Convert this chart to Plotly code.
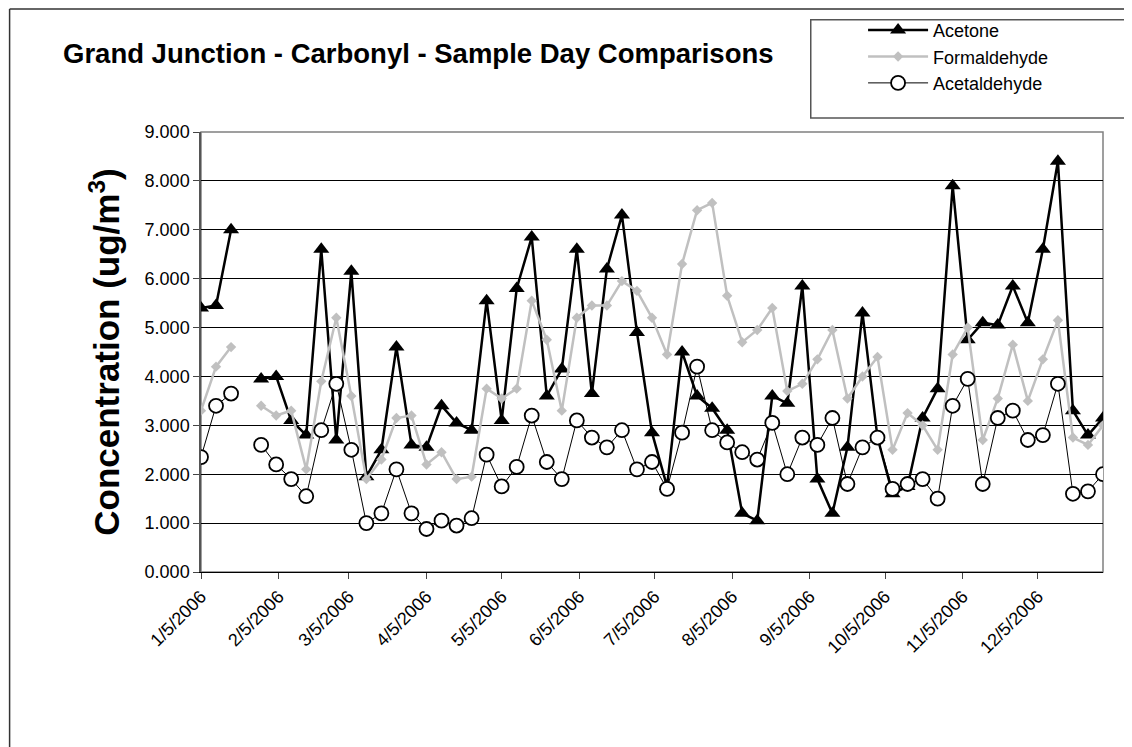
import plotly.graph_objects as go
import pandas as pd

dates = pd.date_range("2006-01-05", periods=61, freq="6D")
acetone = [5.4, 5.45, 7.0, None, 3.95, 4.0, 3.1, 2.8, 6.6, 2.7, 6.15, 1.95, 2.5, 4.6,
           2.6, 2.55, 3.4, 3.05, 2.9, 5.55, 3.1, 5.8, 6.85, 3.6,
           4.15, 6.6, 3.65, 6.2, 7.3, 4.9, 2.85, 1.75, 4.5, 3.6,
           3.35, 2.9, 1.2, 1.05, 3.6, 3.45, 5.85, 1.9, 1.2, 2.55,
           5.3, 2.75, 1.6, 1.75, 3.15, 3.75, 7.9, 4.75, 5.1, 5.05,
           5.85, 5.1, 6.6, 8.4, 3.3, 2.8, 3.15]
formaldehyde = [3.3, 4.2, 4.6, None, 3.4, 3.2, 3.3, 2.1, 3.9, 5.2, 3.6,
                1.9, 2.3, 3.15, 3.2, 2.2, 2.45, 1.9, 1.95, 3.75, 3.55,
                3.75, 5.55, 4.75, 3.3, 5.2, 5.45, 5.45, 5.95, 5.75, 5.2,
                4.45, 6.3, 7.4, 7.55, 5.65, 4.7, 4.95, 5.4, 3.7, 3.85,
                4.35, 4.95, 3.55, 4.0, 4.4, 2.5, 3.25, 3.0, 2.5, 4.45,
                5.0, 2.7, 3.55, 4.65, 3.5, 4.35, 5.15, 2.75, 2.6, 3.0]
acetaldehyde = [2.35, 3.4, 3.65, None, 2.6, 2.2, 1.9, 1.55, 2.9, 3.85, 2.5, 1.0, 1.2, 2.1,
                1.2, 0.88, 1.05, 0.95, 1.1, 2.4, 1.75, 2.15, 3.2, 2.25,
                1.9, 3.1, 2.75, 2.55, 2.9, 2.1, 2.25, 1.7, 2.85, 4.2,
                2.9, 2.65, 2.45, 2.3, 3.05, 2.0, 2.75, 2.6, 3.15, 1.8,
                2.55, 2.75, 1.7, 1.8, 1.9, 1.5, 3.4, 3.95, 1.8, 3.15,
                3.3, 2.7, 2.8, 3.85, 1.6, 1.65, 2.0]
tick_dates = pd.to_datetime([f"2006-{m:02d}-05" for m in range(1, 13)])

fig = go.Figure()
fig.add_trace(go.Scatter(x=dates, y=acetone, name="Acetone", mode="lines+markers",
                         line=dict(color="black", width=2.5),
                         marker=dict(symbol="triangle-up", size=14, color="black")))
fig.add_trace(go.Scatter(x=dates, y=formaldehyde, name="Formaldehyde", mode="lines+markers",
                         line=dict(color="#c0c0c0", width=2.5),
                         marker=dict(symbol="diamond", size=8, color="#c0c0c0")))
fig.add_trace(go.Scatter(x=dates, y=acetaldehyde, name="Acetaldehyde", mode="lines+markers",
                         line=dict(color="black", width=1),
                         marker=dict(symbol="circle", size=14, color="white",
                                     line=dict(color="black", width=1.8))))

# outer chart frame: only left and top edges are visible in the image
fx, fy = -0.2122, 1.2795
frame = [dict(type="line", xref="paper", yref="paper", x0=fx, x1=fx,
              y0=-0.41, y1=fy, line=dict(color="#333333", width=1.5)),
         dict(type="line", xref="paper", yref="paper", x0=fx, x1=1.04,
              y0=fy, y1=fy, line=dict(color="#333333", width=1.5))]

# page draws with an 8px body margin, so left/top margins are 8px smaller
fig.update_layout(
    width=1132, height=747, plot_bgcolor="white", paper_bgcolor="white",
    margin=dict(l=193, r=37, t=124, b=183, autoexpand=False),
    font=dict(family="Liberation Sans, Arial", color="black"),
    title=dict(text="<b>Grand Junction - Carbonyl - Sample Day Comparisons</b>",
               x=55 / 1132, xanchor="left", y=1 - 45 / 747, yanchor="middle",
               font=dict(size=27.5)),
    legend=dict(x=0.734, y=1.273, xanchor="left", yanchor="top", borderwidth=0,
                bgcolor="rgba(0,0,0,0)", font=dict(size=18), itemwidth=60, tracegroupgap=10),
    shapes=frame + [
        dict(type="rect", xref="paper", yref="paper", x0=0.676, x1=1.028,
             y0=1.032, y1=1.255, line=dict(color="#555555", width=1.5)),
        dict(type="rect", xref="paper", yref="paper", x0=0, x1=1, y0=0, y1=1,
             line=dict(color="#808080", width=1.5), layer="below")],
)
fig.update_xaxes(range=["2006-01-05", "2006-12-31"], tickvals=tick_dates,
                 ticktext=[f"{d.month}/{d.day}/{d.year}" for d in tick_dates],
                 tickangle=-45, tickfont=dict(size=18), showgrid=False,
                 showline=True, linecolor="black", ticks="outside", ticklen=6)
fig.update_yaxes(range=[0, 9], dtick=1, tickformat=".3f", tickfont=dict(size=18),
                 showgrid=True, gridcolor="black", showline=True, linecolor="#555555",
                 linewidth=1.5, ticks="outside", ticklen=6, zeroline=False,
                 title=dict(text="<b>Concentration (ug/m<sup>3</sup>)</b>", font=dict(size=35),
                            standoff=14))
fig.write_html("out.html")
